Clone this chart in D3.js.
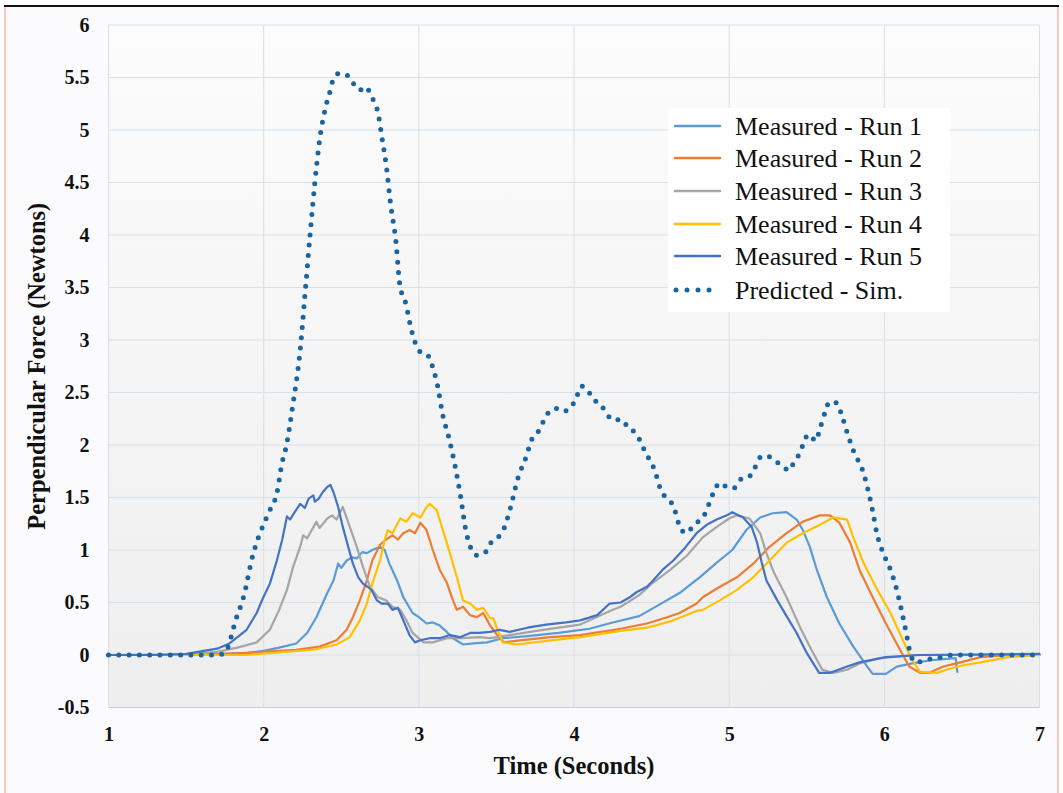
<!DOCTYPE html>
<html>
<head>
<meta charset="utf-8">
<script src="https://cdn.jsdelivr.net/npm/d3@7"></script>
<style>
  body { margin: 0; background: #ffffff; }
  .tick text { font-family: "Liberation Serif", "Times New Roman", serif; font-weight: bold; font-size: 20px; fill: #111; }
</style>
</head>
<body>
<div class="chart"></div>
<script>
var svgWidth = 1063;
var svgHeight = 793;

var margin = { top: 25, right: 23.5, bottom: 85.5, left: 108.5 };
var width = svgWidth - margin.left - margin.right;
var height = svgHeight - margin.top - margin.bottom;

// series: [time (s), force (N)]
var run1 = [[1,0],[1.6,0.005],[1.9,0.02],[2.0,0.04],[2.1,0.07],[2.21,0.11],[2.28,0.21],[2.34,0.36],[2.41,0.59],[2.45,0.71],[2.48,0.87],[2.5,0.83],[2.535,0.9],[2.57,0.93],[2.6,0.92],[2.635,0.98],[2.665,0.97],[2.7,1.0],[2.75,1.03],[2.78,1.0],[2.81,0.87],[2.86,0.71],[2.9,0.55],[2.96,0.4],[3.0,0.36],[3.05,0.3],[3.09,0.31],[3.135,0.28],[3.18,0.22],[3.22,0.16],[3.285,0.1],[3.35,0.11],[3.44,0.12],[3.54,0.16],[3.7,0.18],[3.9,0.21],[4.1,0.25],[4.25,0.31],[4.42,0.37],[4.55,0.48],[4.68,0.59],[4.81,0.74],[4.92,0.88],[5.02,1.0],[5.11,1.19],[5.2,1.31],[5.28,1.35],[5.37,1.36],[5.435,1.29],[5.475,1.19],[5.52,1.03],[5.565,0.81],[5.63,0.55],[5.71,0.3],[5.8,0.08],[5.89,-0.11],[5.925,-0.18],[6.01,-0.18],[6.08,-0.11],[6.18,-0.08],[6.3,-0.05],[6.46,-0.03],[6.47,-0.16]];

var run2 = [[1,0],[1.6,0],[1.89,0.02],[2.21,0.05],[2.36,0.08],[2.47,0.14],[2.535,0.24],[2.575,0.36],[2.62,0.52],[2.665,0.71],[2.7,0.9],[2.75,1.05],[2.79,1.1],[2.83,1.14],[2.865,1.1],[2.9,1.16],[2.94,1.19],[2.975,1.16],[3.01,1.26],[3.05,1.19],[3.09,1.0],[3.135,0.81],[3.18,0.69],[3.22,0.52],[3.245,0.43],[3.285,0.46],[3.33,0.38],[3.375,0.36],[3.415,0.4],[3.46,0.28],[3.5,0.2],[3.55,0.12],[3.65,0.14],[3.85,0.17],[4.04,0.19],[4.3,0.25],[4.47,0.3],[4.6,0.36],[4.68,0.4],[4.79,0.49],[4.83,0.55],[4.94,0.65],[5.05,0.74],[5.155,0.87],[5.26,1.03],[5.37,1.16],[5.475,1.27],[5.585,1.33],[5.65,1.33],[5.71,1.26],[5.78,1.07],[5.84,0.81],[5.925,0.55],[6.01,0.3],[6.09,0.08],[6.16,-0.11],[6.23,-0.17],[6.29,-0.17],[6.38,-0.11],[6.49,-0.07],[6.62,-0.02],[6.8,0],[7,0]];

var run3 = [[1,0],[1.5,0.005],[1.7,0.03],[1.83,0.07],[1.955,0.12],[2.04,0.24],[2.1,0.43],[2.15,0.62],[2.19,0.84],[2.235,1.03],[2.255,1.14],[2.28,1.11],[2.31,1.19],[2.34,1.27],[2.36,1.21],[2.41,1.3],[2.44,1.33],[2.47,1.29],[2.51,1.41],[2.555,1.22],[2.6,1.03],[2.64,0.84],[2.685,0.65],[2.735,0.55],[2.79,0.52],[2.83,0.46],[2.88,0.43],[2.92,0.33],[2.96,0.21],[3.03,0.12],[3.09,0.12],[3.18,0.16],[3.28,0.16],[3.39,0.17],[3.46,0.16],[3.585,0.19],[3.8,0.24],[4.04,0.29],[4.25,0.43],[4.3,0.46],[4.42,0.57],[4.51,0.69],[4.62,0.81],[4.73,0.95],[4.83,1.12],[4.92,1.22],[5.0,1.3],[5.05,1.33],[5.13,1.3],[5.2,1.16],[5.24,0.97],[5.29,0.78],[5.37,0.55],[5.455,0.27],[5.53,0.05],[5.6,-0.14],[5.67,-0.17],[5.76,-0.14],[5.84,-0.08],[5.97,-0.03],[6.2,0],[7,0]];

var run4 = [[1,0],[1.89,0],[2.32,0.05],[2.47,0.1],[2.555,0.17],[2.62,0.33],[2.665,0.49],[2.7,0.68],[2.75,0.9],[2.78,1.1],[2.8,1.19],[2.83,1.16],[2.88,1.3],[2.92,1.27],[2.96,1.35],[3.01,1.31],[3.05,1.41],[3.07,1.44],[3.115,1.38],[3.155,1.19],[3.2,0.97],[3.245,0.74],[3.285,0.52],[3.33,0.49],[3.375,0.43],[3.415,0.45],[3.46,0.35],[3.48,0.35],[3.5,0.27],[3.54,0.12],[3.63,0.1],[3.85,0.14],[4.04,0.17],[4.3,0.23],[4.47,0.26],[4.62,0.32],[4.79,0.42],[4.83,0.43],[4.94,0.52],[5.05,0.62],[5.155,0.74],[5.26,0.9],[5.37,1.07],[5.475,1.16],[5.585,1.24],[5.67,1.31],[5.76,1.29],[5.8,1.12],[5.865,0.88],[5.955,0.62],[6.04,0.4],[6.12,0.14],[6.18,-0.05],[6.23,-0.16],[6.34,-0.17],[6.4,-0.14],[6.5,-0.1],[6.62,-0.07],[6.8,-0.02],[7,0]];

var run5 = [[1,0],[1.3,0],[1.5,0.01],[1.7,0.06],[1.78,0.11],[1.89,0.24],[1.955,0.4],[1.995,0.54],[2.04,0.68],[2.085,0.9],[2.12,1.1],[2.15,1.32],[2.17,1.29],[2.2,1.36],[2.235,1.44],[2.265,1.4],[2.29,1.49],[2.32,1.52],[2.33,1.46],[2.355,1.49],[2.38,1.55],[2.41,1.6],[2.43,1.62],[2.45,1.55],[2.48,1.41],[2.51,1.22],[2.545,1.03],[2.575,0.87],[2.61,0.74],[2.64,0.68],[2.67,0.65],[2.695,0.62],[2.73,0.52],[2.76,0.49],[2.8,0.49],[2.83,0.43],[2.865,0.45],[2.9,0.33],[2.94,0.19],[2.975,0.12],[3.01,0.14],[3.07,0.16],[3.135,0.16],[3.2,0.19],[3.265,0.17],[3.33,0.21],[3.39,0.21],[3.46,0.22],[3.52,0.24],[3.585,0.22],[3.7,0.26],[3.82,0.29],[3.95,0.31],[4.04,0.33],[4.15,0.38],[4.23,0.49],[4.3,0.5],[4.36,0.55],[4.405,0.6],[4.47,0.65],[4.51,0.71],[4.57,0.81],[4.64,0.9],[4.715,1.02],[4.79,1.16],[4.855,1.24],[4.92,1.29],[4.985,1.33],[5.02,1.36],[5.09,1.31],[5.145,1.22],[5.18,1.07],[5.21,0.88],[5.24,0.71],[5.31,0.52],[5.37,0.37],[5.435,0.21],[5.5,0.02],[5.58,-0.17],[5.65,-0.17],[5.76,-0.11],[5.84,-0.07],[6.01,-0.02],[6.23,0],[7,0.01]];

var predicted = [[1,0],[1.7,0],[1.75,0.02],[1.78,0.12],[1.815,0.31],[1.87,0.55],[1.93,0.95],[2.01,1.28],[2.04,1.38],[2.085,1.54],[2.12,1.84],[2.14,1.95],[2.19,2.4],[2.235,2.9],[2.27,3.5],[2.30,4.02],[2.33,4.5],[2.36,4.9],[2.395,5.19],[2.43,5.38],[2.45,5.49],[2.49,5.54],[2.54,5.52],[2.58,5.44],[2.62,5.38],[2.66,5.41],[2.69,5.33],[2.74,5.14],[2.76,4.95],[2.79,4.66],[2.82,4.27],[2.85,3.97],[2.88,3.5],[2.91,3.38],[2.955,3.08],[3.0,2.9],[3.06,2.85],[3.085,2.76],[3.12,2.57],[3.155,2.28],[3.19,2.09],[3.235,1.79],[3.27,1.5],[3.30,1.21],[3.335,1.02],[3.375,0.95],[3.43,0.98],[3.465,1.07],[3.51,1.12],[3.55,1.21],[3.59,1.4],[3.64,1.69],[3.69,1.88],[3.73,2.06],[3.77,2.13],[3.83,2.3],[3.88,2.35],[3.93,2.32],[3.99,2.38],[4.02,2.47],[4.045,2.56],[4.09,2.52],[4.12,2.44],[4.17,2.39],[4.21,2.3],[4.25,2.24],[4.31,2.24],[4.35,2.16],[4.40,2.11],[4.46,1.93],[4.52,1.76],[4.56,1.57],[4.59,1.5],[4.64,1.42],[4.68,1.23],[4.72,1.16],[4.77,1.23],[4.82,1.3],[4.85,1.36],[4.875,1.46],[4.9,1.55],[4.94,1.64],[4.985,1.6],[5.03,1.59],[5.07,1.67],[5.13,1.7],[5.165,1.78],[5.19,1.87],[5.235,1.9],[5.29,1.86],[5.34,1.8],[5.39,1.76],[5.42,1.85],[5.455,1.92],[5.48,2.02],[5.51,2.1],[5.56,2.04],[5.58,2.13],[5.62,2.32],[5.645,2.41],[5.695,2.4],[5.72,2.31],[5.76,2.12],[5.805,1.93],[5.86,1.76],[5.895,1.57],[5.925,1.37],[5.95,1.17],[5.99,0.98],[6.04,0.81],[6.08,0.62],[6.11,0.43],[6.14,0.22],[6.165,0.03],[6.2,-0.07],[6.24,-0.06],[6.29,-0.04],[6.34,-0.03],[6.44,0],[7,0]];

var seriesNames = ["Measured - Run 1", "Measured - Run 2", "Measured - Run 3",
                   "Measured - Run 4", "Measured - Run 5", "Predicted - Sim."];
var xTicks = [1, 2, 3, 4, 5, 6, 7];
var yTicks = [-0.5, 0, 0.5, 1, 1.5, 2, 2.5, 3, 3.5, 4, 4.5, 5, 5.5, 6];

var colors = ["#5b9bd5", "#ed7d31", "#a5a5a5", "#ffc000", "#4472c4", "#1a65a0"];
var allSeries = [run1, run2, run3, run4, run5, predicted];

var svg = d3.select(".chart")
    .append("svg")
    .attr("width", svgWidth)
    .attr("height", svgHeight);

// page frame
svg.append("rect")
    .attr("x", 5).attr("y", 6)
    .attr("width", 1053).attr("height", 790)
    .attr("fill", "#fbfbfd")
    .attr("stroke", "#f4b9a4")
    .attr("stroke-width", 1.5);
svg.append("line")
    .attr("x1", 4).attr("x2", 1059)
    .attr("y1", 6).attr("y2", 6)
    .attr("stroke", "#111")
    .attr("stroke-width", 2);

var defs = svg.append("defs");
var grad = defs.append("linearGradient")
    .attr("id", "plotBg")
    .attr("x1", 0).attr("y1", 0).attr("x2", 0).attr("y2", 1);
grad.append("stop").attr("offset", "0%").attr("stop-color", "#fdfcfc");
grad.append("stop").attr("offset", "100%").attr("stop-color", "#eeeeef");

var chartGroup = svg.append("g")
    .attr("transform", `translate(${margin.left}, ${margin.top})`);

var xLinearScale = d3.scaleLinear().domain([1, 7]).range([0, width]);
var yLinearScale = d3.scaleLinear().domain([-0.5, 6]).range([height, 0]);

chartGroup.append("rect")
    .attr("width", width)
    .attr("height", height)
    .attr("fill", "url(#plotBg)");

// gridlines
chartGroup.append("g")
    .selectAll("line")
    .data(yTicks)
    .enter()
    .append("line")
    .attr("x1", 0).attr("x2", width)
    .attr("y1", d => yLinearScale(d)).attr("y2", d => yLinearScale(d))
    .attr("stroke", d => d === -0.5 ? "#c9cdd2" : "#d5e0e9")
    .attr("stroke-width", 1);

chartGroup.append("g")
    .selectAll("line")
    .data(xTicks)
    .enter()
    .append("line")
    .attr("x1", d => xLinearScale(d)).attr("x2", d => xLinearScale(d))
    .attr("y1", 0).attr("y2", height)
    .attr("stroke", "#d5e0e9")
    .attr("stroke-width", 1);

// axes (labels only)
var leftAxis = d3.axisLeft(yLinearScale).tickValues(yTicks).tickSize(0).tickPadding(19)
    .tickFormat(d => d);
var bottomAxis = d3.axisBottom(xLinearScale).tickValues(xTicks).tickSize(0).tickPadding(19)
    .tickFormat(d => d);

var yAxis = chartGroup.append("g").call(leftAxis);
yAxis.select(".domain").remove();
var xAxis = chartGroup.append("g")
    .attr("transform", `translate(0, ${height})`)
    .call(bottomAxis);
xAxis.select(".domain").remove();

// lines
var line = d3.line()
    .x(d => xLinearScale(d[0]))
    .y(d => yLinearScale(d[1]));

allSeries.forEach(function (data, i) {
    var path = chartGroup.append("path")
        .datum(data)
        .attr("fill", "none")
        .attr("stroke", colors[i])
        .attr("stroke-linejoin", "round")
        .attr("stroke-linecap", "round");
    if (i === 5) {
        path.attr("d", line.curve(d3.curveMonotoneX))
            .attr("stroke-width", 5)
            .attr("stroke-dasharray", "0 10.3");
    } else {
        path.attr("d", line.curve(d3.curveLinear))
            .attr("stroke-width", 2.2);
    }
});

// legend
var legend = svg.append("g").attr("transform", "translate(668, 108)");
legend.append("rect")
    .attr("width", 282).attr("height", 204)
    .attr("fill", "#ffffff");

var legendRows = [18, 50, 83, 116, 148, 182];
seriesNames.forEach(function (name, i) {
    var row = legend.append("g").attr("transform", `translate(0, ${legendRows[i]})`);
    var sample = row.append("line")
        .attr("x1", 7).attr("x2", 52)
        .attr("y1", 0).attr("y2", 0)
        .attr("stroke", colors[i])
        .attr("stroke-linecap", "round");
    if (i === 5) {
        sample.attr("x1", 8).attr("x2", 52)
            .attr("stroke-width", 5)
            .attr("stroke-dasharray", "0 11");
    } else {
        sample.attr("stroke-width", 2.5);
    }
    row.append("text")
        .attr("x", 67)
        .attr("y", 0)
        .attr("dy", "0.35em")
        .attr("font-family", "Liberation Serif, Times New Roman, serif")
        .attr("font-size", "26px")
        .attr("fill", "#111")
        .text(name);
});

// axis titles
svg.append("text")
    .attr("x", margin.left + width / 2)
    .attr("y", 774)
    .attr("text-anchor", "middle")
    .attr("font-family", "Liberation Serif, Times New Roman, serif")
    .attr("font-weight", "bold")
    .attr("font-size", "24.5px")
    .attr("fill", "#111")
    .text("Time (Seconds)");

svg.append("text")
    .attr("transform", `translate(45, ${margin.top + yLinearScale(2.75)}) rotate(-90)`)
    .attr("text-anchor", "middle")
    .attr("font-family", "Liberation Serif, Times New Roman, serif")
    .attr("font-weight", "bold")
    .attr("font-size", "24.5px")
    .attr("fill", "#111")
    .text("Perpendicular Force (Newtons)");
</script>
</body>
</html>
